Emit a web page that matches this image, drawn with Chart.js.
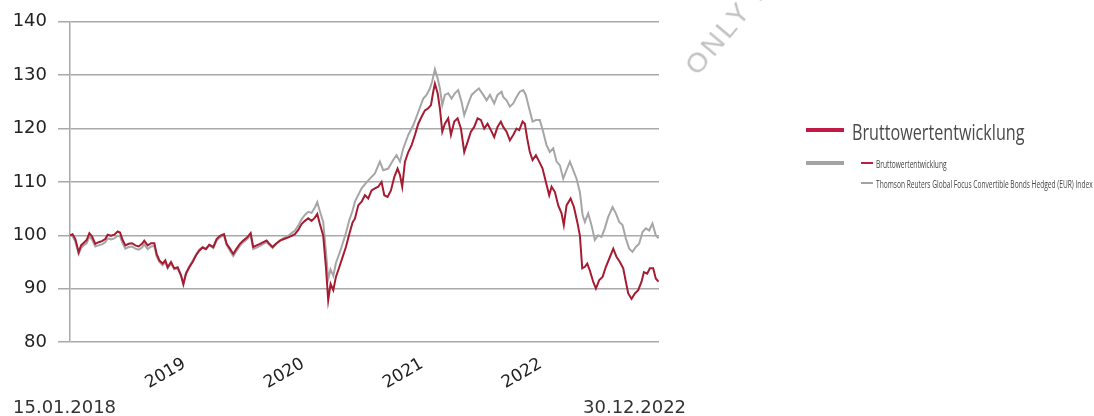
<!DOCTYPE html>
<html lang="de">
<head>
<meta charset="utf-8">
<title>Bruttowertentwicklung</title>
<script src="https://cdn.jsdelivr.net/npm/chart.js@4.4.1/dist/chart.umd.min.js"></script>
<style>
  html, body { margin: 0; padding: 0; background: #fff; }
  body { width: 1094px; height: 416px; position: relative; overflow: hidden; }
  #chart { position: absolute; left: 0; top: 0; }
  .txt { position: absolute; white-space: nowrap; line-height: 1; }
  .date { font: 18px "DejaVu Sans", sans-serif; color: #333; top: 396px; }
  .swatch { position: absolute; }
  .squeeze { transform-origin: 0 50%; display: inline-block; }
  #watermark { position: absolute; left: 680px; top: 62px; transform: rotate(-50deg); transform-origin: 0 0;
    font: 28px "Liberation Sans", sans-serif; letter-spacing: 3px; color: #c2c2c2; line-height: 28px; white-space: nowrap; }
</style>
</head>
<body>
<canvas id="chart" width="1094" height="416"></canvas>

<div id="watermark">ONLY FOR</div>

<div class="txt date" style="left:13px">15.01.2018</div>
<div class="txt date" style="left:583px">30.12.2022</div>

<!-- legend -->
<div class="swatch" style="left:806px;top:128px;width:38px;height:4px;background:#c21a48"></div>
<div class="txt" style="left:852px;top:118px;font:21px 'Open Sans',sans-serif;color:#4a4a4a">
  <span class="squeeze" style="transform:scaleX(0.77)">Bruttowertentwicklung</span>
</div>
<div class="swatch" style="left:806px;top:161px;width:38px;height:4px;background:#a3a3a3"></div>
<div class="swatch" style="left:861px;top:162px;width:12px;height:2px;background:#c21a48"></div>
<div class="txt" style="left:876px;top:157px;font:10.5px 'Open Sans',sans-serif;color:#444">
  <span class="squeeze" style="transform:scaleX(0.63)">Bruttowertentwicklung</span>
</div>
<div class="swatch" style="left:861px;top:182px;width:12px;height:2px;background:#a3a3a3"></div>
<div class="txt" style="left:876px;top:177px;font:10.5px 'Open Sans',sans-serif;color:#444">
  <span class="squeeze" style="transform:scaleX(0.63)">Thomson Reuters Global Focus Convertible Bonds Hedged (EUR) Index</span>
</div>

<script>
// Zeitachse als Dezimaljahr, Werte indexiert (Start = 100)
const yearTicks = [2019, 2020, 2021, 2022];

const fundDates = [
  2018.038, 2018.060, 2018.083, 2018.111, 2018.131, 2018.159, 2018.178, 2018.201, 2018.223, 2018.251,
  2018.279, 2018.307, 2018.335, 2018.355, 2018.383, 2018.411, 2018.439, 2018.459, 2018.481, 2018.504,
  2018.532, 2018.560, 2018.588, 2018.616, 2018.644, 2018.663, 2018.692, 2018.720, 2018.748, 2018.767,
  2018.790, 2018.818, 2018.840, 2018.860, 2018.888, 2018.916, 2018.944, 2018.972, 2018.992, 2019.014,
  2019.042, 2019.070, 2019.098, 2019.126, 2019.154, 2019.182, 2019.210,
  2019.244, 2019.272, 2019.300, 2019.334, 2019.356, 2019.384, 2019.412, 2019.440, 2019.468, 2019.496,
  2019.530, 2019.558, 2019.580, 2019.609, 2019.637, 2019.665, 2019.693, 2019.715, 2019.743, 2019.771,
  2019.805, 2019.839, 2019.875, 2019.903, 2019.931, 2019.959, 2019.987, 2020.015, 2020.043, 2020.071,
  2020.099, 2020.119, 2020.141, 2020.169, 2020.192, 2020.211, 2020.231, 2020.254, 2020.276, 2020.304,
  2020.332, 2020.360, 2020.388, 2020.416,
  2020.436, 2020.464, 2020.492, 2020.520, 2020.548, 2020.576, 2020.604, 2020.632, 2020.660, 2020.683,
  2020.711, 2020.739, 2020.767, 2020.795, 2020.815, 2020.834, 2020.857, 2020.885, 2020.913, 2020.941,
  2020.969, 2020.997, 2021.025, 2021.053, 2021.076, 2021.095, 2021.109, 2021.132, 2021.151, 2021.171,
  2021.193, 2021.221, 2021.244, 2021.272, 2021.300, 2021.328, 2021.356, 2021.384, 2021.412, 2021.440,
  2021.468, 2021.496, 2021.524, 2021.552, 2021.580, 2021.608, 2021.636, 2021.664,
  2021.684, 2021.712, 2021.740, 2021.768, 2021.796, 2021.819, 2021.847, 2021.866, 2021.886, 2021.908,
  2021.931, 2021.959, 2021.987, 2022.015, 2022.043, 2022.071, 2022.091, 2022.119, 2022.147, 2022.175,
  2022.194, 2022.217, 2022.251, 2022.279, 2022.307, 2022.329, 2022.349, 2022.371, 2022.391, 2022.413,
  2022.441, 2022.464, 2022.492, 2022.520, 2022.548, 2022.576, 2022.610, 2022.638, 2022.666, 2022.694,
  2022.716, 2022.736, 2022.764, 2022.792, 2022.820, 2022.848, 2022.868, 2022.896, 2022.918, 2022.946,
  2022.968, 2022.991
];
const fundValues = [
  100.0, 100.2, 99.3, 96.8, 98.1, 98.7, 99.1, 100.4, 99.8, 98.4,
  98.7, 98.9, 99.3, 100.1, 99.9, 100.1, 100.7, 100.5, 99.1, 98.1,
  98.4, 98.5, 98.1, 97.9, 98.4, 99.0, 98.1, 98.5, 98.5, 96.5,
  95.3, 94.7, 95.3, 94.0, 95.0, 93.8, 94.0, 92.5, 90.8, 92.8,
  94.0, 95.0, 96.2, 97.1, 97.7, 97.4, 98.2,
  97.8, 99.3, 99.9, 100.2, 98.4, 97.5, 96.5, 97.5, 98.4, 99.0,
  99.6, 100.4, 97.8, 98.1, 98.4, 98.7, 99.0, 98.4, 97.8, 98.4,
  99.0, 99.3, 99.6, 99.9, 100.2, 101.0, 102.1, 102.7, 103.2, 102.7,
  103.3, 104.0, 102.1, 99.9, 94.0, 87.8, 90.9, 89.7, 92.2, 94.0,
  95.9, 97.8, 100.2, 102.4,
  103.1, 105.6, 106.3, 107.5, 106.9, 108.4, 108.8, 109.1, 110.0, 107.5,
  107.2, 108.4, 110.9, 112.5, 111.3, 109.1, 113.8, 115.6, 116.9, 118.8,
  120.9, 122.2, 123.4, 123.8, 124.4, 126.9, 128.4, 126.6, 123.8, 119.4,
  120.9, 121.9, 118.8, 121.3, 121.9, 120.0, 115.6, 117.5, 119.4, 120.3,
  121.9, 121.6, 120.0, 120.9, 119.7, 118.4, 120.3, 121.3,
  120.3, 119.4, 117.8, 118.8, 120.0, 119.7, 121.3, 120.9, 118.1, 115.6,
  114.1, 115.0, 113.8, 112.5, 110.0, 107.5, 109.1, 108.1, 105.6, 104.1,
  101.9, 105.6, 106.9, 105.3, 102.5, 100.0, 93.8, 94.1, 94.7, 93.4,
  91.3, 90.0, 91.6, 92.2, 94.1, 95.6, 97.5, 95.9, 95.0, 93.8,
  91.3, 89.1, 88.1, 89.1, 89.7, 91.3, 93.1, 92.8, 93.8, 93.8,
  91.9, 91.3
];

const indexDates = [
  2018.038, 2018.060, 2018.083, 2018.111, 2018.131, 2018.159, 2018.178, 2018.201, 2018.223, 2018.251,
  2018.279, 2018.307, 2018.335, 2018.355, 2018.383, 2018.411, 2018.439, 2018.459, 2018.481, 2018.504,
  2018.532, 2018.560, 2018.588, 2018.616, 2018.644, 2018.663, 2018.692, 2018.720, 2018.748, 2018.767,
  2018.790, 2018.818, 2018.840, 2018.860, 2018.888, 2018.916, 2018.944, 2018.972, 2018.992, 2019.014,
  2019.042, 2019.070, 2019.098, 2019.126, 2019.154, 2019.182, 2019.210,
  2019.244, 2019.272, 2019.300, 2019.334, 2019.356, 2019.384, 2019.412, 2019.440, 2019.468, 2019.496,
  2019.530, 2019.558, 2019.580, 2019.609, 2019.637, 2019.665, 2019.693, 2019.715, 2019.743, 2019.771,
  2019.805, 2019.839, 2019.875, 2019.903, 2019.931, 2019.959, 2019.987, 2020.015, 2020.043, 2020.071,
  2020.099, 2020.119, 2020.141, 2020.169, 2020.192, 2020.211, 2020.231, 2020.254, 2020.276, 2020.304,
  2020.332, 2020.360, 2020.388, 2020.416,
  2020.436, 2020.492, 2020.548, 2020.604, 2020.646, 2020.674, 2020.716, 2020.758, 2020.786, 2020.815,
  2020.843, 2020.885, 2020.927, 2020.969, 2021.011, 2021.039, 2021.067, 2021.086, 2021.109, 2021.132,
  2021.151, 2021.171, 2021.193, 2021.221, 2021.249, 2021.277, 2021.305, 2021.333, 2021.356, 2021.390,
  2021.418, 2021.446, 2021.479, 2021.516, 2021.544, 2021.572, 2021.608, 2021.636, 2021.670,
  2021.684, 2021.712, 2021.740, 2021.768, 2021.796, 2021.824, 2021.852, 2021.874, 2021.902, 2021.931,
  2021.959, 2021.992, 2022.020, 2022.048, 2022.076, 2022.105, 2022.133, 2022.161, 2022.189, 2022.211,
  2022.245, 2022.273, 2022.301, 2022.329, 2022.352, 2022.371, 2022.399, 2022.427, 2022.455, 2022.483,
  2022.511, 2022.539, 2022.567, 2022.604, 2022.632, 2022.660, 2022.688, 2022.716, 2022.744, 2022.772,
  2022.800, 2022.828, 2022.856, 2022.884, 2022.912, 2022.940, 2022.968, 2022.991
];
const indexValues = [
  100.0, 99.8, 98.8, 96.5, 97.6, 98.2, 98.5, 99.8, 99.2, 97.9,
  98.1, 98.3, 98.7, 99.4, 99.2, 99.4, 99.9, 99.8, 98.5, 97.5,
  97.8, 97.9, 97.5, 97.3, 97.7, 98.3, 97.4, 97.9, 98.0, 96.1,
  95.0, 94.4, 95.0, 93.8, 94.7, 93.6, 93.8, 92.5, 91.0, 92.9,
  94.2, 95.2, 96.4, 97.3, 97.8, 97.5, 98.2,
  97.6, 99.0, 99.6, 100.0, 98.2, 97.1, 96.1, 97.1, 98.0, 98.7,
  99.3, 100.1, 97.4, 97.7, 98.0, 98.4, 98.7, 98.2, 97.6, 98.3,
  99.0, 99.5, 99.9, 100.4, 100.9, 101.8, 103.0, 103.8, 104.4, 104.2,
  105.2, 106.2, 104.5, 102.5, 97.0, 91.8, 93.6, 92.4, 94.8, 96.5,
  98.4, 100.4, 102.8, 104.6,
  106.3, 108.8, 110.3, 111.6, 113.8, 112.2, 112.5, 114.1, 115.0, 113.8,
  116.3, 118.8, 120.6, 123.1, 125.6, 126.3, 127.5, 128.8, 131.1, 129.4,
  127.5, 124.4, 126.3, 126.6, 125.6, 126.6, 127.2, 125.0, 122.5, 124.7,
  126.3, 126.9, 127.5, 126.3, 125.3, 126.3, 124.7, 126.3, 126.9,
  125.9, 125.3, 124.1, 124.7, 125.9, 126.9, 127.2, 126.3, 123.8, 121.3,
  121.6, 121.6, 119.4, 116.9, 115.6, 116.3, 113.8, 113.1, 110.6, 111.9,
  113.8, 112.2, 110.6, 108.1, 103.8, 102.5, 104.1, 101.9, 99.1, 100.0,
  99.7, 101.3, 103.4, 105.3, 104.1, 102.5, 101.9, 99.4, 97.5, 96.9,
  97.8, 98.4, 100.6, 101.3, 100.9, 102.2, 100.0, 99.4
];

const seriesNames = ["Bruttowertentwicklung", "Thomson Reuters Global Focus Convertible Bonds Hedged (EUR) Index"];

function toPoints(dates, values) {
  return dates.map((d, i) => ({ x: d, y: values[i] }));
}

const gridGrey = "#a9a9a9";
const tickFont = { family: "DejaVu Sans", size: 18 };

new Chart(document.getElementById("chart"), {
  type: "line",
  data: {
    datasets: [
      {
        label: seriesNames[0],
        data: toPoints(fundDates, fundValues),
        borderColor: "#a51c32",
        borderWidth: 2,
        pointRadius: 0,
        tension: 0
      },
      {
        label: seriesNames[1],
        data: toPoints(indexDates, indexValues),
        borderColor: "#a6a6a6",
        borderWidth: 2,
        pointRadius: 0,
        tension: 0
      }
    ]
  },
  options: {
    responsive: false,
    animation: false,
    layout: { padding: { top: 20, right: 435, left: 0, bottom: 0 } },
    plugins: {
      legend: { display: false },
      tooltip: { enabled: false }
    },
    scales: {
      x: {
        type: "linear",
        min: fundDates[0],
        max: 2022.995,
        afterBuildTicks: (s) => { s.ticks = yearTicks.map((v) => ({ value: v })); },
        afterFit: (s) => { s.height = 74; },
        grid: { display: false },
        border: { display: false },
        ticks: {
          minRotation: 30,
          maxRotation: 30,
          padding: 4,
          color: "#222",
          font: { family: "DejaVu Sans", size: 17 },
          callback: (v) => String(v)
        }
      },
      y: {
        min: 80,
        max: 140,
        afterFit: (s) => { s.width = 70; },
        grid: { color: gridGrey, lineWidth: 1.5, tickLength: 12 },
        border: { color: gridGrey, width: 1.5 },
        ticks: { stepSize: 10, padding: 11, color: "#222", font: tickFont }
      }
    }
  }
});
</script>
</body>
</html>
